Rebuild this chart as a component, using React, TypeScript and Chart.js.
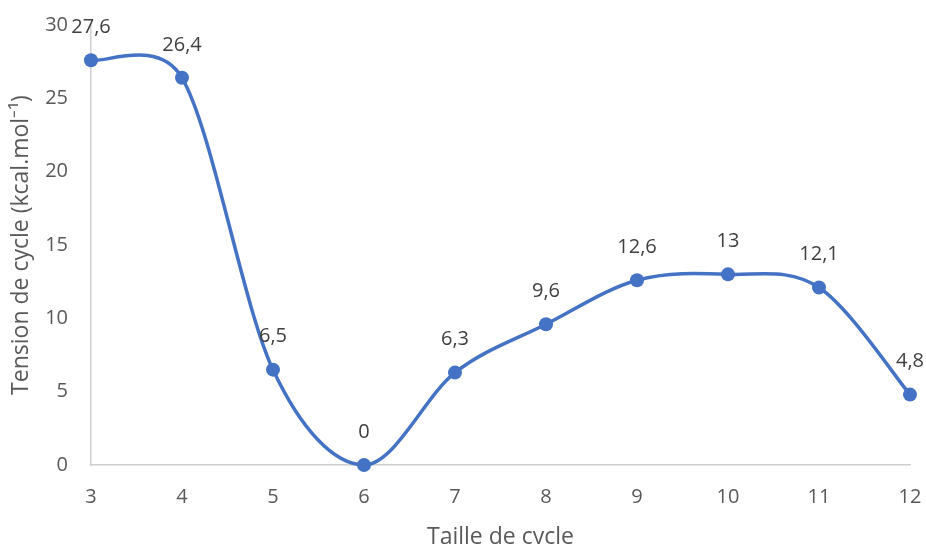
import React, { useEffect, useRef } from "react";
import { Chart, registerables } from "chart.js";

Chart.register(...registerables);

const categories = ["3", "4", "5", "6", "7", "8", "9", "10", "11", "12"];
const strainValues = [27.6, 26.4, 6.5, 0, 6.3, 9.6, 12.6, 13, 12.1, 4.8];
const yTitle = "Tension de cycle (kcal.mol⁻¹)";
const xTitle = "Taille de cycle";

const FONT = "'Open Sans', sans-serif";
const TEXT = "#595959";
const BLUE = "#4472C4";

// Excel-like smoothing: Catmull-Rom tangent (1/6), limited to half the segment length
const smoothPlugin = {
  id: "excelSmooth",
  beforeDatasetsDraw(chart: any) {
    const meta = chart.getDatasetMeta(0);
    const line = meta.dataset;
    if (!line) return;
    line.updateControlPoints(chart.chartArea, "x");
    const pts = meta.data;
    const n = pts.length;
    for (let i = 0; i < n; i++) {
      const p = pts[i];
      const prev = pts[Math.max(i - 1, 0)];
      const next = pts[Math.min(i + 1, n - 1)];
      const tx = (next.x - prev.x) / 6;
      const ty = (next.y - prev.y) / 6;
      const tl = Math.hypot(tx, ty);
      let s1 = 1;
      let s2 = 1;
      if (tl > 0) {
        const dPrev = Math.hypot(p.x - prev.x, p.y - prev.y) / 2;
        const dNext = Math.hypot(next.x - p.x, next.y - p.y) / 2;
        if (i > 0 && tl > dPrev) s1 = dPrev / tl;
        if (i < n - 1 && tl > dNext) s2 = dNext / tl;
      }
      p.cp1x = p.x - tx * s1;
      p.cp1y = p.y - ty * s1;
      p.cp2x = p.x + tx * s2;
      p.cp2y = p.y + ty * s2;
    }
  },
};

const labelPlugin = {
  id: "pointLabels",
  afterDatasetsDraw(chart: any) {
    const ctx = chart.ctx;
    const meta = chart.getDatasetMeta(0);
    ctx.save();
    ctx.font = `20px ${FONT}`;
    ctx.fillStyle = "#404040";
    ctx.textAlign = "center";
    ctx.textBaseline = "middle";
    meta.data.forEach((pt: any, i: number) => {
      const v = strainValues[i];
      ctx.fillText(String(v).replace(".", ","), pt.x, pt.y - 33);
    });
    ctx.restore();
  },
};

export default function App() {
  const ref = useRef<HTMLCanvasElement>(null);
  useEffect(() => {
    document.body.style.margin = "0";
    const chart = new Chart(ref.current!, {
      type: "line",
      data: {
        labels: categories,
        datasets: [
          {
            data: strainValues,
            borderColor: BLUE,
            backgroundColor: BLUE,
            borderWidth: 3.5,
            pointRadius: 7,
            pointBackgroundColor: BLUE,
            pointBorderColor: BLUE,
            pointBorderWidth: 0,
            tension: 0.4,
            capBezierPoints: false,
            clip: false as any,
          } as any,
        ],
      },
      options: {
        animation: false,
        responsive: false,
        maintainAspectRatio: false,
        layout: { padding: { left: 0, right: 16, top: 25, bottom: 0 } },
        plugins: { legend: { display: false }, tooltip: { enabled: false } },
        scales: {
          x: {
            type: "category",
            offset: false,
            grid: { display: false, drawTicks: false },
            border: { display: true, color: "#D0D0D0", width: 1.5 },
            ticks: { color: TEXT, font: { family: FONT, size: 20 }, padding: 20, maxRotation: 0 },
            title: {
              display: true,
              text: xTitle,
              color: TEXT,
              font: { family: FONT, size: 23 },
              padding: { top: 0, bottom: -7 },
            },
            afterFit(scale: any) {
              scale.height = 79;
              scale.paddingLeft = 0;
              scale.paddingRight = 0;
            },
          },
          y: {
            min: 0,
            max: 30,
            grid: { display: false, drawTicks: false },
            border: { display: true, color: "#D0D0D0", width: 1.5 },
            ticks: { stepSize: 5, color: TEXT, font: { family: FONT, size: 20 }, padding: 23 },
            title: {
              display: true,
              text: yTitle,
              color: TEXT,
              font: { family: FONT, size: 23 },
              padding: { top: 8, bottom: 0 },
            },
            afterFit(scale: any) {
              scale.width = 91;
              scale.paddingTop = 0;
              scale.paddingBottom = 0;
            },
          },
        },
      },
      plugins: [smoothPlugin, labelPlugin],
    });
    return () => chart.destroy();
  }, []);
  return (
    <div style={{ width: 926, height: 544 }}>
      <canvas ref={ref} width={926} height={544} style={{ display: "block" }} />
    </div>
  );
}
